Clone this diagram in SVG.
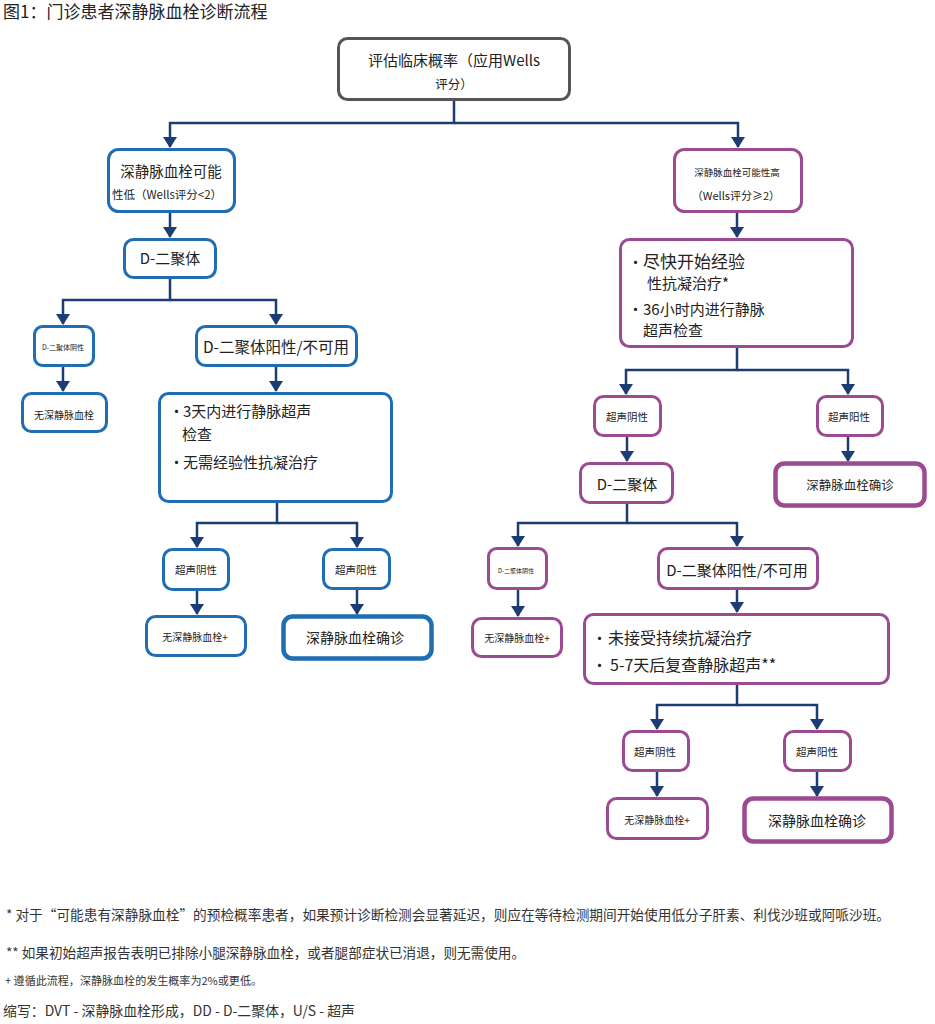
<svg xmlns="http://www.w3.org/2000/svg" width="935" height="1024" viewBox="0 0 935 1024">
<style>
text{font-family:"Noto Sans CJK SC","Noto Sans",sans-serif;fill:#222}
.c{text-anchor:middle}
.g{fill:#fff;stroke:#555;stroke-width:3}
.b{fill:#fff;stroke:#1f6db3;stroke-width:3}
.bt{fill:#fff;stroke:#1f6db3;stroke-width:4.5}
.m{fill:#fff;stroke:#9c4a91;stroke-width:3}
.mt{fill:#fff;stroke:#9c4a91;stroke-width:4.5}
.ln{fill:none;stroke:#1c3d73;stroke-width:2.5;marker-end:url(#ah)}
.fn{fill:#333}
</style>
<defs>
<marker id="ah" markerUnits="userSpaceOnUse" markerWidth="11" markerHeight="14" viewBox="0 0 11 14" refX="10" refY="7" orient="auto">
<path d="M0,0 L11,7 L0,14 z" fill="#1c3d73"/>
</marker>
</defs>
<rect width="935" height="1024" fill="#fff"/>
<text x="3" y="18" font-size="17" fill="#333">图1：门诊患者深静脉血栓诊断流程</text>

<g id="connectors">
<path class="ln" d="M454 101 V123 H170 V147"/>
<path class="ln" d="M454 123 H738 V147"/>
<path class="ln" d="M170 213 V237"/>
<path class="ln" d="M170 279 V300 H63 V324"/>
<path class="ln" d="M170 300 H276 V324"/>
<path class="ln" d="M63 367 V391"/>
<path class="ln" d="M276 367 V391"/>
<path class="ln" d="M277 503 V523 H197 V547"/>
<path class="ln" d="M277 523 H357 V547"/>
<path class="ln" d="M197 591 V614"/>
<path class="ln" d="M357 590 V614"/>
<path class="ln" d="M737 213 V237"/>
<path class="ln" d="M737 348 V370 H626 V394"/>
<path class="ln" d="M737 370 H848 V394"/>
<path class="ln" d="M627 437 V461"/>
<path class="ln" d="M848 437 V461"/>
<path class="ln" d="M627 504 V523 H518 V546"/>
<path class="ln" d="M627 523 H737 V546"/>
<path class="ln" d="M518 590 V616"/>
<path class="ln" d="M737 590 V612"/>
<path class="ln" d="M737 685 V705 H657 V729"/>
<path class="ln" d="M737 705 H817 V729"/>
<path class="ln" d="M657 772 V796"/>
<path class="ln" d="M817 772 V796"/>
</g>

<g id="n-start">
<rect class="g" x="338.5" y="38.5" width="231" height="61" rx="9"/>
<text class="c" x="454" y="66" font-size="15">评估临床概率（应用Wells</text>
<text class="c" x="454" y="89" font-size="12.5">评分）</text>
</g>

<g id="n-low">
<rect class="b" x="108.5" y="149.5" width="126" height="62" rx="10"/>
<text class="c" x="171" y="177" font-size="14.5">深静脉血栓可能</text>
<text class="c" x="167" y="199" font-size="11.5">性低（Wells评分&lt;2）</text>
</g>
<g id="n-dd-l">
<rect class="b" x="124.5" y="239.5" width="91" height="38" rx="9"/>
<text class="c" x="170" y="264" font-size="15">D-二聚体</text>
</g>
<g id="n-ddneg-l">
<rect class="b" x="34.5" y="326.5" width="59" height="39" rx="8"/>
<text class="c" x="63" y="350" font-size="7">D-二聚体阴性</text>
</g>
<g id="n-ddpos-l">
<rect class="b" x="196.5" y="326.5" width="160" height="39" rx="9"/>
<text class="c" x="276" y="352.5" font-size="15.5">D-二聚体阳性/不可用</text>
</g>
<g id="n-nodvt-l1">
<rect class="b" x="22.5" y="393.5" width="84" height="38" rx="9"/>
<text class="c" x="64" y="418.5" font-size="10">无深静脉血栓</text>
</g>
<g id="n-us-l">
<rect class="b" x="159.5" y="393.5" width="232" height="108" rx="9"/>
<text x="169" y="417" font-size="15">•</text>
<text x="183" y="417" font-size="15">3天内进行静脉超声</text>
<text x="182" y="440" font-size="15">检查</text>
<text x="169" y="468" font-size="15">•</text>
<text x="183" y="468" font-size="15">无需经验性抗凝治疗</text>
</g>
<g id="n-usneg-l">
<rect class="b" x="163.5" y="549.5" width="65" height="40" rx="9"/>
<text class="c" x="196" y="574" font-size="10.5">超声阴性</text>
</g>
<g id="n-uspos-l">
<rect class="b" x="323.5" y="549.5" width="66" height="39" rx="9"/>
<text class="c" x="356" y="574" font-size="10.5">超声阳性</text>
</g>
<g id="n-nodvt-l2">
<rect class="b" x="146.5" y="616.5" width="99" height="39" rx="9"/>
<text class="c" x="195" y="641" font-size="10">无深静脉血栓+</text>
</g>
<g id="n-dvt-l">
<rect class="bt" x="283.5" y="616.5" width="148" height="42" rx="9"/>
<text class="c" x="355" y="642.5" font-size="14">深静脉血栓确诊</text>
</g>

<g id="n-high">
<rect class="m" x="674.5" y="149.5" width="127" height="62" rx="10"/>
<text class="c" x="737" y="176" font-size="9.5">深静脉血栓可能性高</text>
<text class="c" x="736" y="200" font-size="11">（Wells评分≥2）</text>
</g>
<g id="n-treat-r">
<rect class="m" x="620.5" y="239.5" width="232" height="107" rx="9"/>
<text x="628" y="268" font-size="15">•</text>
<text x="643" y="268" font-size="17">尽快开始经验</text>
<text x="647" y="289" font-size="15">性抗凝治疗*</text>
<text x="628" y="315" font-size="15">•</text>
<text x="643" y="315" font-size="15">36小时内进行静脉</text>
<text x="643" y="336" font-size="15">超声检查</text>
</g>
<g id="n-usneg-r1">
<rect class="m" x="594.5" y="396.5" width="66" height="39" rx="9"/>
<text class="c" x="627" y="421" font-size="10.5">超声阴性</text>
</g>
<g id="n-uspos-r1">
<rect class="m" x="817.5" y="396.5" width="65" height="39" rx="9"/>
<text class="c" x="849" y="421" font-size="10.5">超声阳性</text>
</g>
<g id="n-dd-r">
<rect class="m" x="580.5" y="463.5" width="92" height="39" rx="9"/>
<text class="c" x="627" y="489.5" font-size="15">D-二聚体</text>
</g>
<g id="n-dvt-r1">
<rect class="mt" x="775.5" y="463.5" width="149" height="42" rx="9"/>
<text class="c" x="850" y="489.5" font-size="12.5">深静脉血栓确诊</text>
</g>
<g id="n-ddneg-r">
<rect class="m" x="488.5" y="548.5" width="58" height="40" rx="8"/>
<text class="c" x="516" y="573" font-size="6">D-二聚体阴性</text>
</g>
<g id="n-ddpos-r">
<rect class="m" x="658.5" y="548.5" width="159" height="40" rx="9"/>
<text class="c" x="737" y="576" font-size="15">D-二聚体阳性/不可用</text>
</g>
<g id="n-nodvt-r1">
<rect class="m" x="472.5" y="618.5" width="89" height="38" rx="9"/>
<text class="c" x="517" y="642" font-size="10">无深静脉血栓+</text>
</g>
<g id="n-repeat-r">
<rect class="m" x="584.5" y="614.5" width="304" height="69" rx="9"/>
<text x="592" y="643.5" font-size="15">•</text>
<text x="608" y="643.5" font-size="16">未接受持续抗凝治疗</text>
<text x="592" y="670.5" font-size="15">•</text>
<text x="610" y="670.5" font-size="16">5-7天后复查静脉超声**</text>
</g>
<g id="n-usneg-r2">
<rect class="m" x="623.5" y="731.5" width="65" height="39" rx="9"/>
<text class="c" x="655" y="756" font-size="10.5">超声阴性</text>
</g>
<g id="n-uspos-r2">
<rect class="m" x="784.5" y="731.5" width="66" height="39" rx="9"/>
<text class="c" x="817" y="756" font-size="10.5">超声阳性</text>
</g>
<g id="n-nodvt-r2">
<rect class="m" x="607.5" y="798.5" width="100" height="40" rx="9"/>
<text class="c" x="657" y="824" font-size="10">无深静脉血栓+</text>
</g>
<g id="n-dvt-r2">
<rect class="mt" x="744.5" y="798.5" width="147" height="43" rx="9"/>
<text class="c" x="817" y="826" font-size="14">深静脉血栓确诊</text>
</g>

<g id="notes">
<text class="fn" x="6" y="920" font-size="13.5" textLength="884" lengthAdjust="spacingAndGlyphs">* 对于“可能患有深静脉血栓”的预检概率患者，如果预计诊断检测会显著延迟，则应在等待检测期间开始使用低分子肝素、利伐沙班或阿哌沙班。</text>
<text class="fn" x="6" y="958" font-size="13.5" textLength="519" lengthAdjust="spacingAndGlyphs">** 如果初始超声报告表明已排除小腿深静脉血栓，或者腿部症状已消退，则无需使用。</text>
<text class="fn" x="5" y="985" font-size="11" textLength="257" lengthAdjust="spacingAndGlyphs">+ 遵循此流程，深静脉血栓的发生概率为2%或更低。</text>
<text class="fn" x="3" y="1016" font-size="14" textLength="352" lengthAdjust="spacingAndGlyphs">缩写：DVT - 深静脉血栓形成，DD - D-二聚体，U/S - 超声</text>
</g>
</svg>
